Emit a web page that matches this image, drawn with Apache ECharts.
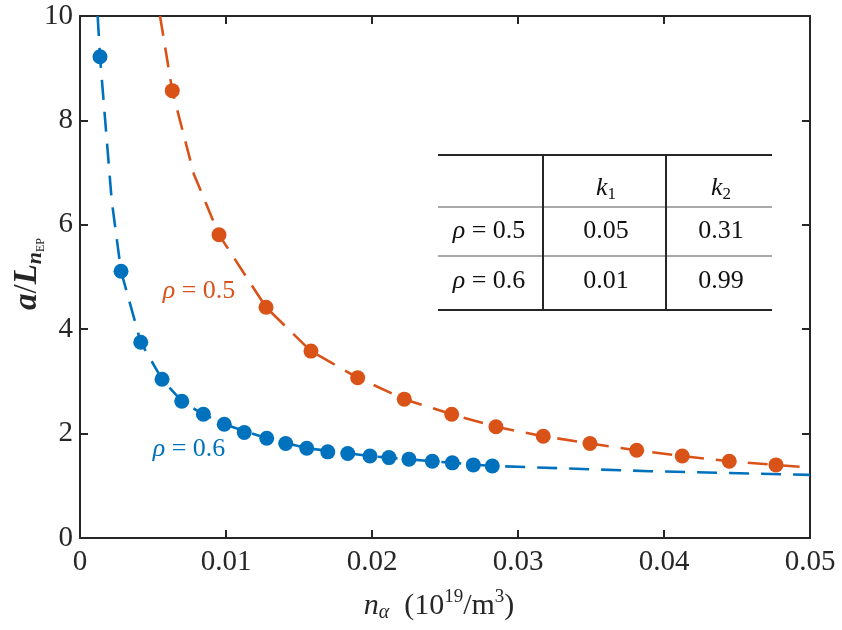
<!DOCTYPE html>
<html><head><meta charset="utf-8">
<script src="https://cdn.jsdelivr.net/npm/echarts@6/dist/echarts.min.js"></script>
<style>html,body{margin:0;padding:0;background:#fff}#c{width:842px;height:630px}</style>
</head><body><div id="c"></div>
<script>
// ---- data ----
const xTicks = [0, 0.01, 0.02, 0.03, 0.04, 0.05];
const yTicks = [0, 2, 4, 6, 8, 10];

// rho = 0.6 (blue) markers
const blueX = [0.00137,0.00281,0.00416,0.00562,0.00697,0.00845,0.00988,0.01125,0.01279,0.01409,0.01553,0.01697,0.01834,0.01986,0.02116,0.02253,0.02413,0.02550,0.02694,0.02824];
const blueY = [9.22,5.11,3.75,3.04,2.62,2.37,2.18,2.02,1.91,1.81,1.72,1.65,1.62,1.57,1.54,1.51,1.47,1.44,1.40,1.38];
// rho = 0.6 dashed fit curve
const blueFitX = [0.00121,0.00137,0.00217,0.00281,0.00416,0.00562,0.00697,0.00845,0.00988,0.01279,0.01553,0.01986,0.02413,0.02824,0.0390,0.0500];
const blueFitY = [10.0,9.22,6.47,5.11,3.75,3.04,2.62,2.37,2.18,1.91,1.72,1.57,1.47,1.38,1.28,1.21];

// rho = 0.5 (orange) markers
const orangeX = [0.00632,0.00952,0.01274,0.01582,0.01902,0.02221,0.02546,0.02849,0.03173,0.03493,0.03813,0.04125,0.04447,0.04767];
const orangeY = [8.57,5.81,4.42,3.58,3.07,2.66,2.37,2.13,1.95,1.81,1.68,1.57,1.47,1.40];
// rho = 0.5 dashed fit curve
const orangeFitX = [0.00548,0.00632,0.00780,0.00952,0.01274,0.01582,0.01902,0.02221,0.02546,0.02849,0.03173,0.03493,0.03813,0.04125,0.04447,0.04767,0.0500];
const orangeFitY = [10.0,8.57,6.97,5.81,4.42,3.58,3.07,2.66,2.37,2.13,1.95,1.81,1.68,1.57,1.47,1.40,1.35];

// table
const tableHeader = ['', 'k1', 'k2'];
const tableRows = [['0.5', '0.05', '0.31'], ['0.6', '0.01', '0.99']];
const curveLabels = ['0.5', '0.6'];

// ---- styles ----
const BLUE = '#0072BD', ORANGE = '#D95319', AX = '#262626';
const FONT = 'Liberation Serif';
const zip = (a, b) => a.map((v, i) => [v, b[i]]);

const chart = echarts.init(document.getElementById('c'), null, {renderer: 'canvas'});

const axisCommon = {
  axisLine: {show: true, onZero: false, lineStyle: {color: AX, width: 2}},
  axisTick: {show: true, inside: true, length: 8, lineStyle: {color: AX, width: 2}},
  splitLine: {show: false}
};

const rho = (v) => '{i|ρ}{r|\u2005=\u2005' + v + '}';
const richCell = {
  i: {fontFamily: FONT, fontStyle: 'italic', fontSize: 26, fill: '#111'},
  r: {fontFamily: FONT, fontSize: 26, fill: '#111'},
  sub: {fontFamily: FONT, fontSize: 17, fill: '#111', padding: [14, 0, 0, 0]}
};

const colX = [489, 606, 721];
const rowY = [188, 231, 281];
const graphics = [];
// table lines
const tl = 438, tr = 772, yTop = 155, yH = 207, yM = 256, yB = 310;
const line = (x1, y1, x2, y2, w, c) => ({type: 'line', shape: {x1, y1, x2, y2}, style: {stroke: c, lineWidth: w}, silent: true});
graphics.push(line(tl, yTop, tr, yTop, 2, AX));
graphics.push(line(tl, yH, tr, yH, 1.2, '#555'));
graphics.push(line(tl, yM, tr, yM, 1.2, '#555'));
graphics.push(line(tl, yB, tr, yB, 2, AX));
graphics.push(line(543, yTop, 543, yB, 2, AX));
graphics.push(line(666, yTop, 666, yB, 2, AX));
// header
[1, 2].forEach(j => {
  graphics.push({type: 'text', x: colX[j], y: rowY[0], style: {
    text: '{i|k}{sub|' + tableHeader[j].slice(1) + '}', rich: richCell, align: 'center', verticalAlign: 'middle'}});
});
tableRows.forEach((row, r) => {
  graphics.push({type: 'text', x: colX[0], y: rowY[r + 1], style: {text: rho(row[0]), rich: richCell, align: 'center', verticalAlign: 'middle'}});
  graphics.push({type: 'text', x: colX[1], y: rowY[r + 1], style: {text: '{r|' + row[1] + '}', rich: richCell, align: 'center', verticalAlign: 'middle'}});
  graphics.push({type: 'text', x: colX[2], y: rowY[r + 1], style: {text: '{r|' + row[2] + '}', rich: richCell, align: 'center', verticalAlign: 'middle'}});
});
// curve labels
const lblRich = (c) => ({
  i: {fontFamily: FONT, fontStyle: 'italic', fontSize: 26, fill: c},
  r: {fontFamily: FONT, fontSize: 26, fill: c}
});
graphics.push({type: 'text', x: 199, y: 291, style: {text: rho(curveLabels[0]), rich: lblRich(ORANGE), align: 'center', verticalAlign: 'middle'}});
graphics.push({type: 'text', x: 189, y: 449, style: {text: rho(curveLabels[1]), rich: lblRich(BLUE), align: 'center', verticalAlign: 'middle'}});
// x axis title
graphics.push({type: 'text', x: 439, y: 606, style: {
  text: '{i|n}{sub|α}{r|\u2002(10}{sup|19}{r|/m}{sup|3}{r|)}',
  rich: {
    i: {fontFamily: FONT, fontStyle: 'italic', fontSize: 30, fill: AX},
    r: {fontFamily: FONT, fontSize: 30, fill: AX},
    sub: {fontFamily: FONT, fontStyle: 'italic', fontSize: 20, fill: AX, padding: [14, 0, 0, 0]},
    sup: {fontFamily: FONT, fontSize: 19, fill: AX, padding: [0, 0, 18, 0]}
  }, align: 'center', verticalAlign: 'middle'}});
// y axis title
graphics.push({type: 'text', x: 27, y: 274, rotation: Math.PI / 2, style: {
  text: '{m|a}{s|/}{m|L}{n|n}{e|EP}',
  rich: {
    m: {fontFamily: FONT, fontStyle: 'italic', fontWeight: 'bold', fontSize: 33, fill: AX},
    s: {fontFamily: FONT, fontSize: 33, fill: AX},
    n: {fontFamily: FONT, fontStyle: 'italic', fontWeight: 'bold', fontSize: 22, fill: AX, padding: [16, 0, 0, 0]},
    e: {fontFamily: FONT, fontSize: 12, fill: AX, padding: [28, 0, 0, 0]}
  }, align: 'center', verticalAlign: 'middle'}});

const option = {
  animation: false,
  backgroundColor: '#fff',
  grid: {left: 80, right: 32, top: 16, bottom: 92, containLabel: false},
  xAxis: [
    Object.assign({type: 'value', min: xTicks[0], max: xTicks[xTicks.length - 1], interval: 0.01, position: 'bottom',
      axisLabel: {show: true, margin: 10, color: AX, fontFamily: FONT, fontSize: 29,
        formatter: v => { const t = xTicks.find(x => Math.abs(x - v) < 1e-9); return t === undefined ? '' : String(t); }}}, axisCommon),
    Object.assign({type: 'value', min: xTicks[0], max: xTicks[xTicks.length - 1], interval: 0.01, position: 'top',
      axisLabel: {show: false}}, axisCommon)
  ],
  yAxis: [
    Object.assign({type: 'value', min: yTicks[0], max: yTicks[yTicks.length - 1], interval: 2, position: 'left',
      axisLabel: {show: true, margin: 7, color: AX, fontFamily: FONT, fontSize: 29}}, axisCommon),
    Object.assign({type: 'value', min: yTicks[0], max: yTicks[yTicks.length - 1], interval: 2, position: 'right',
      axisLabel: {show: false}}, axisCommon)
  ],
  series: [
    {type: 'line', data: zip(orangeFitX, orangeFitY), showSymbol: false, clip: true,
      lineStyle: {color: ORANGE, width: 2.6, type: [20, 12]}, z: 2},
    {type: 'line', data: zip(blueFitX, blueFitY), showSymbol: false, clip: true,
      lineStyle: {color: BLUE, width: 2.6, type: [20, 12]}, z: 2},
    {type: 'scatter', data: zip(orangeX, orangeY), symbol: 'circle', symbolSize: 15, itemStyle: {color: ORANGE, opacity: 1}, z: 3},
    {type: 'scatter', data: zip(blueX, blueY), symbol: 'circle', symbolSize: 15, itemStyle: {color: BLUE, opacity: 1}, z: 3}
  ],
  graphic: graphics
};
chart.setOption(option);
</script>
</body></html>
